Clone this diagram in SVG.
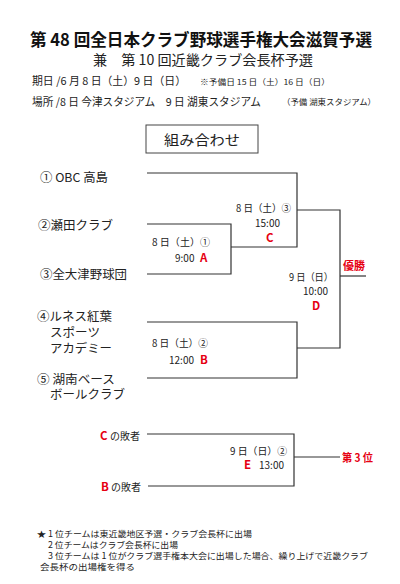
<svg xmlns="http://www.w3.org/2000/svg" width="400" height="584" viewBox="0 0 400 584">
<style>
text{font-family:"Noto Sans CJK JP","Noto Sans",sans-serif;fill:#222}
.t{font-size:17px;font-weight:bold;fill:#111}
.s{font-size:14px}
.i{font-size:11px}
.sm{font-size:8px}
.tm{font-size:12px}
.g{font-size:10px}
.r{fill:#e60012;font-weight:bold;font-size:11.5px}
.n{font-size:8.5px}
.ln{fill:none;stroke:#333;stroke-width:1.2}
</style>
<rect width="400" height="584" fill="#fff"/>
<g id="header">
<text class="t" x="30" y="46" textLength="342" lengthAdjust="spacingAndGlyphs">第 48 回全日本クラブ野球選手権大会滋賀予選</text>
<text class="s" x="93" y="65" textLength="220" lengthAdjust="spacingAndGlyphs">兼　第 10 回近畿クラブ会長杯予選</text>
<text class="i" x="32" y="85" textLength="154" lengthAdjust="spacingAndGlyphs">期日 /6 月 8 日（土）9 日（日）</text>
<text class="sm" x="200" y="85" textLength="130" lengthAdjust="spacingAndGlyphs">※予備日 15 日（土）16 日（日）</text>
<text class="i" x="32" y="106" textLength="229" lengthAdjust="spacingAndGlyphs">場所 /8 日 今津スタジアム　9 日 湖東スタジアム</text>
<text class="sm" x="282" y="105" textLength="94" lengthAdjust="spacingAndGlyphs">（予備 湖東スタジアム）</text>
</g>
<g id="title-box">
<rect x="146" y="125" width="112" height="28" fill="#fff" stroke="#444" stroke-width="1"/>
<text class="s" x="202" y="145" text-anchor="middle" textLength="76" lengthAdjust="spacingAndGlyphs">組み合わせ</text>
</g>
<g id="connectors">
<polyline class="ln" points="147,173 297,173 297,247 231,247"/>
<polyline class="ln" points="147,224 231,224 231,274 147,274"/>
<polyline class="ln" points="297,210 340,210 340,348 297,348"/>
<line class="ln" x1="340" y1="276" x2="366" y2="276"/>
<polyline class="ln" points="147,322 297,322 297,378 147,378"/>
<polyline class="ln" points="147,434 294,434 294,486 148,486"/>
<line class="ln" x1="294" y1="457" x2="340" y2="457"/>
</g>
<g id="team1"><text class="tm" x="40" y="182" textLength="68" lengthAdjust="spacingAndGlyphs">① OBC 高島</text></g>
<g id="team2"><text class="tm" x="38" y="230" textLength="75" lengthAdjust="spacingAndGlyphs">②瀬田クラブ</text></g>
<g id="team3"><text class="tm" x="40" y="279" textLength="87" lengthAdjust="spacingAndGlyphs">③全大津野球団</text></g>
<g id="team4">
<text class="tm" x="37" y="321" textLength="75" lengthAdjust="spacingAndGlyphs">④ルネス紅葉</text>
<text class="tm" x="50" y="337" textLength="50" lengthAdjust="spacingAndGlyphs">スポーツ</text>
<text class="tm" x="50" y="353" textLength="62" lengthAdjust="spacingAndGlyphs">アカデミー</text>
</g>
<g id="team5">
<text class="tm" x="37" y="384" textLength="78" lengthAdjust="spacingAndGlyphs">⑤ 湖南ベース</text>
<text class="tm" x="50" y="399" textLength="75" lengthAdjust="spacingAndGlyphs">ボールクラブ</text>
</g>
<g id="gameA">
<text class="g" x="152" y="246" textLength="58" lengthAdjust="spacingAndGlyphs">8 日（土）①</text>
<text class="g" x="175" y="262">9:00</text>
<text class="r" x="200" y="262">A</text>
</g>
<g id="gameC">
<text class="g" x="236" y="212" textLength="55" lengthAdjust="spacingAndGlyphs">8 日（土）③</text>
<text class="g" x="255" y="227">15:00</text>
<text class="r" x="266" y="242">C</text>
</g>
<g id="gameD">
<text class="g" x="289" y="281" textLength="44" lengthAdjust="spacingAndGlyphs">9 日（日）</text>
<text class="g" x="303" y="295">10:00</text>
<text class="r" x="312" y="310">D</text>
</g>
<g id="champion"><text class="r" x="343" y="270" font-size="11" textLength="22" lengthAdjust="spacingAndGlyphs">優勝</text></g>
<g id="gameB">
<text class="g" x="152" y="347" textLength="56" lengthAdjust="spacingAndGlyphs">8 日（土）②</text>
<text class="g" x="169" y="364">12:00</text>
<text class="r" x="200" y="364">B</text>
</g>
<g id="loserC">
<text class="r" x="100" y="440">C</text>
<text class="g" x="110" y="440" textLength="30" lengthAdjust="spacingAndGlyphs">の敗者</text>
</g>
<g id="loserB">
<text class="r" x="101" y="491">B</text>
<text class="g" x="111" y="491" textLength="30" lengthAdjust="spacingAndGlyphs">の敗者</text>
</g>
<g id="gameE">
<text class="g" x="230" y="455" textLength="57" lengthAdjust="spacingAndGlyphs">9 日（日）②</text>
<text class="r" x="244" y="469">E</text>
<text class="g" x="259" y="469">13:00</text>
</g>
<g id="third"><text class="r" x="342" y="462" font-size="11" textLength="31" lengthAdjust="spacingAndGlyphs">第 3 位</text></g>
<g id="notes">
<text class="n" x="37" y="537" textLength="215" lengthAdjust="spacingAndGlyphs">★ 1 位チームは東近畿地区予選・クラブ会長杯に出場</text>
<text class="n" x="48" y="548" textLength="130" lengthAdjust="spacingAndGlyphs">2 位チームはクラブ会長杯に出場</text>
<text class="n" x="48" y="559" textLength="320" lengthAdjust="spacingAndGlyphs">3 位チームは 1 位がクラブ選手権本大会に出場した場合、繰り上げで近畿クラブ</text>
<text class="n" x="40" y="570" textLength="95" lengthAdjust="spacingAndGlyphs">会長杯の出場権を得る</text>
</g>
</svg>
